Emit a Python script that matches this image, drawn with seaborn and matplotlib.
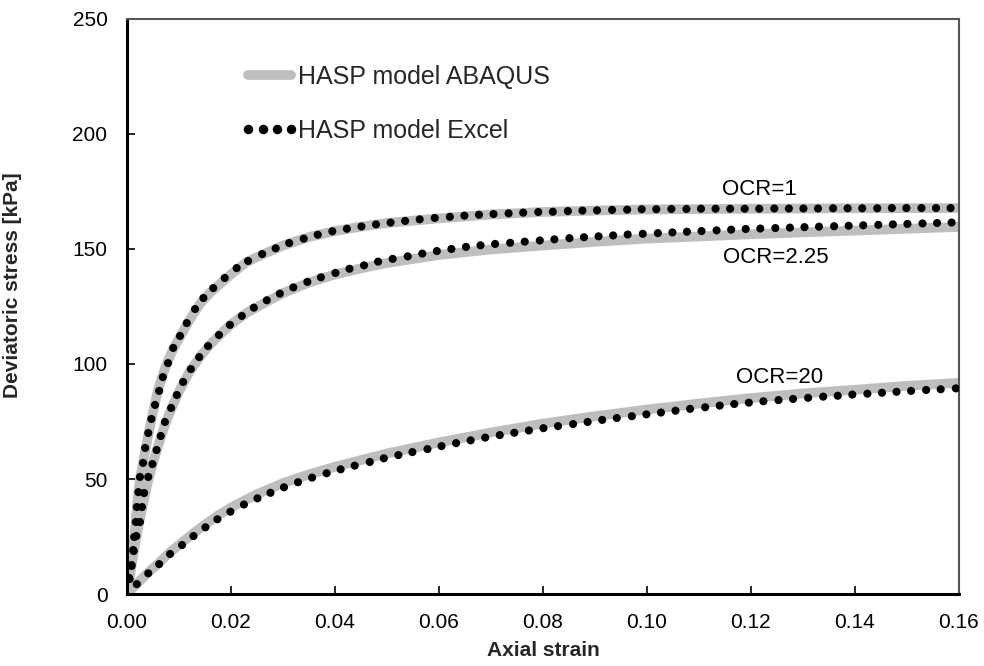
import numpy as np
import pandas as pd
import matplotlib
matplotlib.use("Agg")
import matplotlib.pyplot as plt
from matplotlib.lines import Line2D
import seaborn as sns

# ---------------- data ----------------
# HASP model ABAQUS (continuous lines)
abq_ocr1_strain = [0, 0.0005, 0.001, 0.0015, 0.002, 0.0025, 0.003, 0.004, 0.005, 0.006, 0.007, 0.008,
                   0.009, 0.010, 0.012, 0.014, 0.016, 0.018, 0.020, 0.023, 0.026, 0.030, 0.035, 0.040,
                   0.045, 0.050, 0.060, 0.070, 0.080, 0.090, 0.100, 0.120, 0.140, 0.160]
abq_ocr1_stress = [0, 8, 15, 27, 40, 50, 56, 68, 79, 89, 96, 102,
                   107, 111, 119, 126, 131, 135, 139, 144.3, 147.5, 151.5, 155.2, 157.8,
                   159.7, 161.3, 163.3, 165.0, 166.1, 166.7, 167.2, 167.5, 167.7, 167.8]

abq_ocr225_strain = [0, 0.0005, 0.001, 0.0015, 0.002, 0.0025, 0.003, 0.004, 0.005, 0.006, 0.007, 0.008,
                     0.009, 0.010, 0.012, 0.014, 0.016, 0.018, 0.020, 0.023, 0.026, 0.030, 0.035, 0.040,
                     0.045, 0.050, 0.060, 0.070, 0.080, 0.090, 0.100, 0.120, 0.140, 0.160]
abq_ocr225_stress = [0, 7, 14, 20.5, 27, 32.5, 38, 48.5, 57, 64.5, 71.5, 77.5,
                     83, 88, 96.5, 103, 108.5, 113, 117.2, 122.2, 126, 130.8, 135.4, 138.9,
                     141.6, 143.9, 147.4, 149.8, 151.5, 153.1, 154.5, 156.4, 158.0, 159.6]

abq_ocr20_strain = [0, 0.002, 0.004, 0.006, 0.008, 0.010, 0.0125, 0.015, 0.0175, 0.020, 0.025, 0.030,
                    0.035, 0.040, 0.050, 0.060, 0.070, 0.080, 0.090, 0.100, 0.110, 0.120, 0.130, 0.140,
                    0.150, 0.160]
abq_ocr20_stress = [0, 4.7, 9.2, 13.2, 17.6, 21.3, 25.9, 30.2, 34.1, 37.6, 43.4, 48.2,
                    52.0, 55.3, 61.1, 65.9, 70.2, 74.1, 77.3, 80.2, 82.8, 85.2, 87.2, 88.8,
                    90.5, 91.8]

# HASP model Excel (points)
xl_ocr1_strain = [0.0004, 0.0009, 0.0012, 0.0014, 0.0017, 0.0019, 0.0022, 0.0025,
                  0.0031, 0.0035, 0.0041, 0.0047, 0.0054, 0.0062, 0.0069, 0.0079,
                  0.0089, 0.0102, 0.0115, 0.0131, 0.0147, 0.0166, 0.0188, 0.0211, 0.0233,
                  0.0260, 0.0286, 0.0312, 0.0340, 0.0367, 0.0395, 0.0423, 0.0451, 0.0479,
                  0.0507, 0.0535, 0.0563, 0.0592, 0.0621, 0.0649, 0.0677, 0.0705,
                  0.0734, 0.0762, 0.0791, 0.0819, 0.0848, 0.0876, 0.0904, 0.0933, 0.0962,
                  0.0990, 0.1018, 0.1047, 0.1076, 0.1104, 0.1132, 0.1160, 0.1188,
                  0.1216, 0.1245, 0.1273, 0.1301, 0.1329, 0.1358, 0.1386, 0.1414, 0.1443,
                  0.1471, 0.1499, 0.1528, 0.1556, 0.1584]
xl_ocr1_stress = [7.0, 12.6, 19.1, 24.8, 31.3, 37.8, 44.3, 50.9,
                  57.0, 63.5, 70.0, 76.1, 82.2, 88.3, 94.3, 100.4,
                  107.0, 112.2, 117.8, 123.9, 128.7, 133.0, 137.4, 141.7, 144.8,
                  147.8, 150.3, 152.6, 154.5, 156.2, 157.7, 158.8, 159.8, 160.7,
                  161.5, 162.2, 162.9, 163.5, 164.0, 164.5, 164.9, 165.2,
                  165.5, 165.8, 166.1, 166.2, 166.5, 166.7, 166.8, 167.0, 167.1,
                  167.3, 167.3, 167.4, 167.4, 167.5, 167.5, 167.5, 167.5,
                  167.5, 167.6, 167.6, 167.6, 167.6, 167.7, 167.7, 167.7, 167.7,
                  167.8, 167.8, 167.8, 167.8, 167.8]

xl_ocr225_strain = [0.0005, 0.0009, 0.0013, 0.0018, 0.0025, 0.0029, 0.0033, 0.0041, 0.0049, 0.0057,
                    0.0065, 0.0073, 0.0085, 0.0096, 0.0108, 0.0123, 0.0139, 0.0156, 0.0177, 0.0198,
                    0.0221,
                    0.0244, 0.0269, 0.0294, 0.0320, 0.0347, 0.0373, 0.0401, 0.0428, 0.0456, 0.0483,
                    0.0511, 0.0540, 0.0568, 0.0596, 0.0624, 0.0652, 0.0680, 0.0708,
                    0.0737, 0.0765, 0.0794, 0.0822, 0.0851, 0.0879, 0.0907, 0.0935, 0.0963, 0.0992,
                    0.1021, 0.1049, 0.1077, 0.1105, 0.1134, 0.1162, 0.1190,
                    0.1218, 0.1247, 0.1275, 0.1303, 0.1331, 0.1360, 0.1388, 0.1416, 0.1445, 0.1473,
                    0.1501, 0.1530, 0.1558, 0.1586]
xl_ocr225_stress = [6.5, 12.2, 18.7, 25.2, 31.3, 37.8, 43.9, 50.9, 56.5, 62.6,
                    68.7, 74.8, 80.9, 86.5, 92.2, 97.8, 103.0, 107.8, 112.6, 117.0,
                    120.9,
                    124.5, 127.7, 130.6, 133.3, 135.7, 137.7, 139.6, 141.4, 142.9, 144.5,
                    145.7, 146.8, 148.0, 149.1, 150.0, 150.9, 151.6, 152.2,
                    152.7, 153.2, 153.7, 154.2, 154.7, 155.1, 155.5, 155.9, 156.3, 156.6,
                    156.9, 157.2, 157.5, 157.8, 158.1, 158.4, 158.7,
                    158.9, 159.1, 159.3, 159.5, 159.7, 159.9, 160.1, 160.3, 160.5, 160.7,
                    160.9, 161.1, 161.3, 161.5]

xl_ocr20_strain = [0.0019, 0.0041, 0.0062, 0.0083, 0.0106, 0.0128, 0.0151, 0.0174, 0.0199, 0.0225,
                   0.0251, 0.0276, 0.0302, 0.0329, 0.0356, 0.0384, 0.0411, 0.0438, 0.0467, 0.0494,
                   0.0522, 0.0549, 0.0578, 0.0605, 0.0633, 0.0661, 0.0689, 0.0717, 0.0745, 0.0773,
                   0.0801, 0.0829, 0.0858, 0.0886, 0.0914, 0.0942, 0.0971, 0.0999, 0.1027, 0.1055,
                   0.1083, 0.1112, 0.1140, 0.1168, 0.1196, 0.1224, 0.1253, 0.1281, 0.1310, 0.1339,
                   0.1367, 0.1395, 0.1424, 0.1452, 0.1480, 0.1508, 0.1537, 0.1565, 0.1594]
xl_ocr20_stress = [4.3, 9.0, 13.0, 17.4, 21.3, 25.2, 29.0, 32.5, 35.8, 38.9,
                   41.6, 44.0, 46.4, 48.6, 50.6, 52.5, 54.2, 55.8, 57.4, 59.0,
                   60.4, 61.7, 63.0, 64.3, 65.6, 66.8, 68.0, 69.1, 70.1, 71.1,
                   72.1, 73.0, 73.9, 74.8, 75.7, 76.5, 77.3, 78.1, 78.9, 79.7,
                   80.5, 81.2, 81.9, 82.6, 83.2, 83.8, 84.3, 84.8, 85.3, 85.8,
                   86.2, 86.7, 87.1, 87.5, 87.9, 88.3, 88.7, 89.0, 89.4]

ocr_labels = ["OCR=1", "OCR=2.25", "OCR=20"]
ocr_label_x = [0.1144, 0.1146, 0.1171]
ocr_label_y = [176.0, 146.3, 94.0]

x_ticks = [0.00, 0.02, 0.04, 0.06, 0.08, 0.10, 0.12, 0.14, 0.16]
y_ticks = [0, 50, 100, 150, 200, 250]

legend_labels = ["HASP model ABAQUS", "HASP model Excel"]

# ---------------- plotting ----------------
sns.set_theme(style="white")
plt.rcParams["font.family"] = ["Liberation Sans", "DejaVu Sans"]

fig = plt.figure(figsize=(9.84, 6.66), dpi=100)
ax = fig.add_axes([0.129, 0.1081, 0.8455, 0.8634])

line_color = "#bebebe"
lw = 7.0
for xs, ys in [(abq_ocr1_strain, abq_ocr1_stress),
               (abq_ocr225_strain, abq_ocr225_stress),
               (abq_ocr20_strain, abq_ocr20_stress)]:
    df = pd.DataFrame({"strain": xs, "stress": ys})
    sns.lineplot(data=df, x="strain", y="stress", ax=ax, color=line_color, linewidth=lw,
                 sort=False, estimator=None, solid_capstyle="butt", zorder=2)

for xs, ys in [(xl_ocr1_strain, xl_ocr1_stress),
               (xl_ocr225_strain, xl_ocr225_stress),
               (xl_ocr20_strain, xl_ocr20_stress)]:
    df = pd.DataFrame({"strain": xs, "stress": ys})
    sns.scatterplot(data=df, x="strain", y="stress", ax=ax, color="black", s=34,
                    edgecolor="none", linewidth=0, zorder=3)

for lab, lx, ly in zip(ocr_labels, ocr_label_x, ocr_label_y):
    ax.text(lx, ly, lab, fontsize=16, ha="left", va="center", color="black")

ax.set_xlim(0, 0.16)
ax.set_ylim(0, 250)
ax.set_xticks(x_ticks)
ax.set_xticklabels([f"{v:.2f}" for v in x_ticks])
ax.set_yticks(y_ticks)
ax.set_yticklabels([str(v) for v in y_ticks])
ax.tick_params(axis="both", which="major", direction="in", length=6, width=1.2,
               labelsize=15, colors="black")
ax.tick_params(axis="x", pad=13.5)
ax.tick_params(axis="y", pad=14)
ax.tick_params(top=False, right=False, bottom=True, left=True)

ax.set_xlabel("Axial strain", fontsize=15, fontweight="bold")
ax.set_ylabel("Deviatoric stress [kPa]", fontsize=15, fontweight="bold")
ax.xaxis.set_label_coords(0.5, -0.082)
ax.yaxis.set_label_coords(-0.126, 0.537)

for side in ["left", "bottom"]:
    ax.spines[side].set_color("black")
    ax.spines[side].set_linewidth(2.2)
for side in ["top", "right"]:
    ax.spines[side].set_color("#555555")
    ax.spines[side].set_linewidth(1.5)
ax.grid(False)

handles = [Line2D([0], [0], color=line_color, linewidth=lw, solid_capstyle="round"),
           Line2D([0], [0], color="black", linestyle="none", marker="o", markersize=5.8)]
leg = ax.legend(handles, legend_labels, loc="upper left", bbox_to_anchor=(0.125, 0.938),
                frameon=False, fontsize=18, handlelength=2.3, handletextpad=0.0,
                labelspacing=1.2, numpoints=4, borderaxespad=0.0)

fig.savefig("out.png", dpi=100)
